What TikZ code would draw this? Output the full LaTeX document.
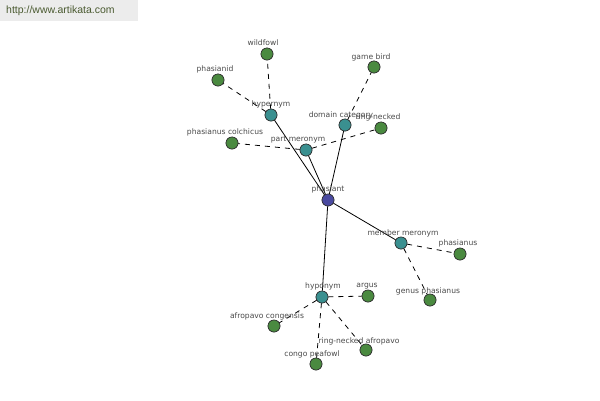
\documentclass[tikz,border=0pt]{standalone}
\usepackage{fontspec}
\setmainfont{DejaVu Sans}
\newfontfamily\wmfont{Liberation Sans}
\definecolor{leafgreen}{HTML}{4A8A40}
\definecolor{tealnode}{HTML}{3A9090}
\definecolor{rootblue}{HTML}{4A4AA0}
\definecolor{labgray}{HTML}{4A4A4A}
\definecolor{wmbg}{HTML}{ECECEC}
\definecolor{wmtext}{HTML}{4A5A30}
\begin{document}
\begin{tikzpicture}[x=1pt,y=-1pt,
  dot/.style={circle,draw=black!80,line width=0.6pt,minimum size=12pt,inner sep=0pt},
  leaf/.style={dot,fill=leafgreen},
  rel/.style={dot,fill=tealnode},
  root/.style={dot,fill=rootblue},
  lab/.style={text=labgray,font=\fontsize{7.6}{8}\selectfont,inner sep=0pt},
  solidedge/.style={draw=black,line width=0.8pt},
  dashedge/.style={draw=black,line width=0.8pt,dash pattern=on 5pt off 5pt}]
\useasboundingbox (0,0) rectangle (600,400);
\fill[white] (0,0) rectangle (600,400);
% watermark
\node[fill=wmbg,minimum width=138pt,minimum height=21pt,inner sep=0pt,anchor=north west] (wm) at (0,0) {};
\node[text=wmtext,font=\wmfont\fontsize{10.5}{11}\selectfont,anchor=west,inner sep=0pt] (wmt) at (6,11) {http://www.artikata.com};
% nodes
\node[root] (phasiant) at (328,200) {};
\node[rel] (hypernym) at (271,115) {};
\node[rel] (domain) at (345,125) {};
\node[rel] (part) at (306,150) {};
\node[rel] (member) at (401,243) {};
\node[rel] (hyponym) at (322,297) {};
\node[leaf] (wildfowl) at (267,54) {};
\node[leaf] (phasianid) at (218,80) {};
\node[leaf] (gamebird) at (374,67) {};
\node[leaf] (ringnecked) at (381,128) {};
\node[leaf] (colchicus) at (232,143) {};
\node[leaf] (phasianus) at (460,254) {};
\node[leaf] (genus) at (430,300) {};
\node[leaf] (argus) at (368,296) {};
\node[leaf] (congensis) at (274,326) {};
\node[leaf] (peafowl) at (316,364) {};
\node[leaf] (afropavo) at (366,350) {};
% edges
\path[solidedge] (phasiant) -- (hypernym);
\path[solidedge] (phasiant) -- (domain);
\path[solidedge] (phasiant) -- (part);
\path[solidedge] (phasiant) -- (member);
\path[solidedge] (phasiant) -- (hyponym);
\path[dashedge] (hypernym) -- (wildfowl);
\path[dashedge] (hypernym) -- (phasianid);
\path[dashedge] (domain) -- (gamebird);
\path[dashedge] (part) -- (ringnecked);
\path[dashedge] (part) -- (colchicus);
\path[dashedge] (member) -- (phasianus);
\path[dashedge] (member) -- (genus);
\path[dashedge] (hyponym) -- (argus);
\path[dashedge] (hyponym) -- (congensis);
\path[dashedge] (hyponym) -- (peafowl);
\path[dashedge] (hyponym) -- (afropavo);
% labels
\node[lab] (l-phasiant) at (328,189) {phasiant};
\node[lab] (l-hypernym) at (271,104) {hypernym};
\node[lab] (l-wildfowl) at (263,43) {wildfowl};
\node[lab] (l-phasianid) at (215,69) {phasianid};
\node[lab] (l-domain) at (341,115) {domain category};
\node[lab] (l-gamebird) at (371,57) {game bird};
\node[lab] (l-ringnecked) at (378,117) {ring-necked};
\node[lab] (l-part) at (298,140) {part meronym};
\node[lab] (l-colchicus) at (225,132) {phasianus colchicus};
\node[lab] (l-member) at (403,233) {member meronym};
\node[lab] (l-phasianus) at (458,243) {phasianus};
\node[lab] (l-genus) at (428,291) {genus phasianus};
\node[lab] (l-hyponym) at (323,286) {hyponym};
\node[lab] (l-argus) at (367,286) {argus};
\node[lab] (l-congensis) at (267,316) {afropavo congensis};
\node[lab] (l-peafowl) at (312,354) {congo peafowl};
\node[lab] (l-afropavo) at (359,341) {ring-necked afropavo};
% redraw dots over edges
\node[root] at (phasiant) {};
\foreach \n in {hypernym,domain,part,member,hyponym}{\node[rel] at (\n) {};}
\foreach \n in {wildfowl,phasianid,gamebird,ringnecked,colchicus,phasianus,genus,argus,congensis,peafowl,afropavo}{\node[leaf] at (\n) {};}
\end{tikzpicture}
\end{document}
